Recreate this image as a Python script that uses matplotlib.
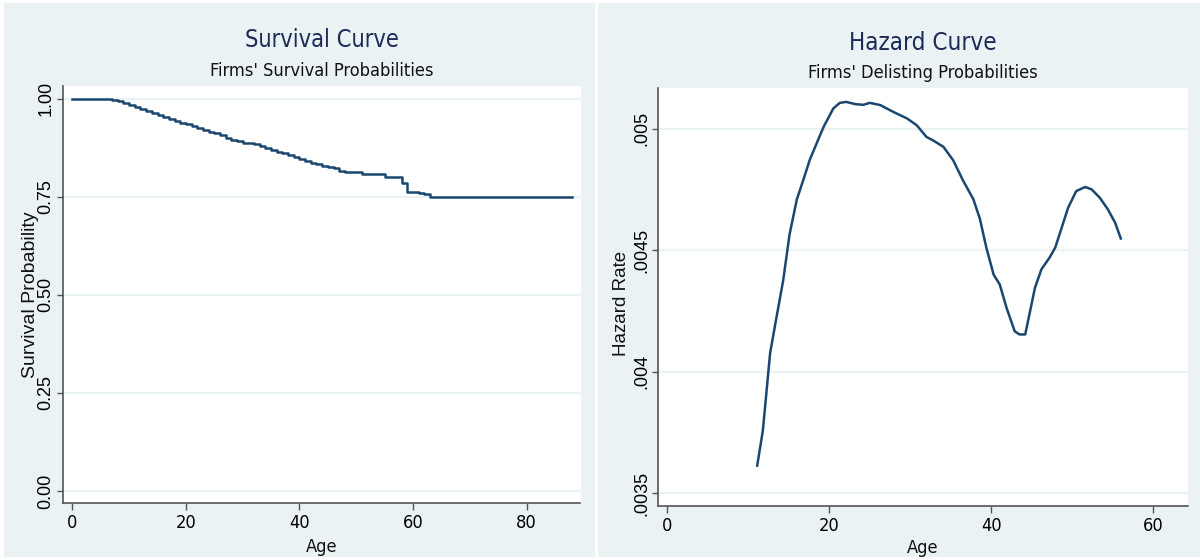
import matplotlib
matplotlib.use("Agg")
import matplotlib.pyplot as plt
from matplotlib.patches import Rectangle
from matplotlib import font_manager as fm

# ---------------- data ----------------
surv_age = list(range(0, 64)) + [88]
surv_prob = [1.000, 1.000, 1.000, 1.000, 1.000, 1.000, 0.999, 0.997, 0.993, 0.989,
             0.984, 0.979, 0.973, 0.968, 0.962, 0.957, 0.952, 0.947, 0.942, 0.938,
             0.934, 0.929, 0.924, 0.919, 0.915, 0.911, 0.906, 0.900, 0.895, 0.891,
             0.888, 0.887, 0.885, 0.879, 0.873, 0.869, 0.865, 0.861, 0.856, 0.851,
             0.846, 0.841, 0.837, 0.833, 0.829, 0.825, 0.823, 0.815, 0.814, 0.813,
             0.812, 0.807, 0.807, 0.807, 0.807, 0.800, 0.800, 0.800, 0.786, 0.761,
             0.761, 0.760, 0.757, 0.749, 0.749]

haz_age = [11.1, 11.8, 12.7, 13.4, 14.3, 15.1, 16.0, 16.8, 17.6, 18.5, 19.3, 20.5,
           21.3, 22.1, 23.2, 24.2, 25.0, 26.3, 27.9, 29.6, 30.8, 32.0, 32.8, 34.1,
           35.3, 36.5, 37.8, 38.6, 39.4, 40.3, 41.05, 41.9, 42.9, 43.5, 44.2, 44.8,
           45.4, 46.2, 47.2, 47.9, 48.7, 49.5, 50.5, 51.6, 52.4, 53.4, 54.4, 55.3, 56.0]
haz_rate = [0.003614, 0.003758, 0.004078, 0.004209, 0.004374, 0.004566, 0.004710,
            0.004790, 0.004873, 0.004945, 0.005008, 0.005084, 0.005107, 0.005111,
            0.005102, 0.005099, 0.005107, 0.005098, 0.005070, 0.005043, 0.005015,
            0.004967, 0.004953, 0.004926, 0.004871, 0.004789, 0.004710, 0.004630,
            0.004511, 0.004400, 0.004360, 0.004263, 0.004167, 0.004154, 0.004154,
            0.004250, 0.004346, 0.004422, 0.004470, 0.004511, 0.004593, 0.004676,
            0.004744, 0.004761, 0.004751, 0.004717, 0.004669, 0.004614, 0.004549]

surv_yticks = [0.0, 0.25, 0.5, 0.75, 1.0]
surv_yticklabels = ["0.00", "0.25", "0.50", "0.75", "1.00"]
surv_xticks = [0, 20, 40, 60, 80]
haz_yticks = [0.0035, 0.004, 0.0045, 0.005]
haz_yticklabels = [".0035", ".004", ".0045", ".005"]
haz_xticks = [0, 20, 40, 60]

# ---------------- fonts ----------------
def narrow_props():
    try:
        f = fm.findfont(fm.FontProperties(family="Liberation Sans Narrow"),
                        fallback_to_default=False)
        if "Narrow" in f:
            return dict(family="Liberation Sans Narrow"), 1.0
    except Exception:
        pass
    try:
        f = fm.findfont(fm.FontProperties(family="DejaVu Sans", stretch="condensed"),
                        fallback_to_default=False)
        if "Condensed" in f:
            return dict(family="DejaVu Sans", stretch="condensed"), 0.87
    except Exception:
        pass
    return dict(family="Liberation Sans"), 0.82

NARROW, NSCALE = narrow_props()
REG = dict(family="Liberation Sans")

# ---------------- style ----------------
W, H = 1200, 560
BG = "#eaf2f3"
LINE = "#1a476f"
TITLE_C = "#1c2b58"
AX_C = "#555555"

fig = plt.figure(figsize=(W / 100, H / 100), dpi=100)
fig.patch.set_facecolor("white")

def px(x, y):
    return x / W, 1 - y / H

for (x0, y0, x1, y1) in [(4, 3, 595, 557), (598, 3, 1200, 557)]:
    fig.patches.append(Rectangle((x0 / W, 1 - y1 / H), (x1 - x0) / W, (y1 - y0) / H,
                                 transform=fig.transFigure, facecolor=BG,
                                 edgecolor="none", zorder=-10))

def make_axes(x0, y0, x1, y1):
    ax = fig.add_axes([x0 / W, 1 - y1 / H, (x1 - x0) / W, (y1 - y0) / H])
    ax.set_facecolor("white")
    for s in ["top", "right"]:
        ax.spines[s].set_visible(False)
    for s in ["left", "bottom"]:
        ax.spines[s].set_color(AX_C)
        ax.spines[s].set_linewidth(1.2)
    ax.tick_params(axis="both", colors=AX_C, labelcolor="black", width=1.0)
    ax.tick_params(axis="x", length=5, pad=3)
    ax.tick_params(axis="y", length=4, pad=2)
    ax.grid(axis="y", color=BG, linewidth=1.6)
    ax.grid(axis="x", visible=False)
    ax.set_axisbelow(True)
    return ax

# ---------------- survival ----------------
ax1 = make_axes(62.7, 86, 580.5, 503)
ax1.plot(surv_age, surv_prob, drawstyle="steps-post", color=LINE, linewidth=1.8)
ax1.set_xlim(-1.7, 89.5)
ax1.set_ylim(-0.0306, 1.032)
ax1.set_xticks(surv_xticks)
ax1.set_xticklabels([str(t) for t in surv_xticks], fontsize=15 * NSCALE, **NARROW)
ax1.set_yticks(surv_yticks)
ax1.set_yticklabels(surv_yticklabels, rotation=90, va="center", fontsize=13, **REG)

# ---------------- hazard ----------------
ax2 = make_axes(658.3, 88.3, 1188, 506)
ax2.plot(haz_age, haz_rate, color=LINE, linewidth=1.8)
ax2.set_xlim(-1.11, 64.3)
ax2.set_ylim(0.003448, 0.005167)
ax2.set_xticks(haz_xticks)
ax2.set_xticklabels([str(t) for t in haz_xticks], fontsize=15 * NSCALE, **NARROW)
ax2.set_yticks(haz_yticks)
ax2.set_yticklabels(haz_yticklabels, rotation=90, va="center", fontsize=13, **REG)

# ---------------- text ----------------
fig.text(*px(321.6, 46.7), "Survival Curve", ha="center", va="baseline",
         fontsize=19.5 * NSCALE, color=TITLE_C, **NARROW)
fig.text(*px(321.6, 76), "Firms' Survival Probabilities", ha="center", va="baseline",
         fontsize=15 * NSCALE, color="#111111", **NARROW)
fig.text(*px(923, 50), "Hazard Curve", ha="center", va="baseline",
         fontsize=20 * NSCALE, color=TITLE_C, **NARROW)
fig.text(*px(923, 78), "Firms' Delisting Probabilities", ha="center", va="baseline",
         fontsize=15 * NSCALE, color="#111111", **NARROW)

fig.text(*px(321.6, 552), "Age", ha="center", va="baseline", fontsize=15 * NSCALE,
         color="#111111", **NARROW)
fig.text(*px(923, 553), "Age", ha="center", va="baseline", fontsize=15 * NSCALE,
         color="#111111", **NARROW)

fig.text(*px(31, 294.5), "Survival Probability", rotation=90, ha="center",
         va="center", fontsize=14, color="#111111", **REG)
fig.text(*px(622, 303), "Hazard Rate", rotation=90, ha="center",
         va="center", fontsize=13.5, color="#111111", **REG)

fig.savefig("out.png", dpi=100, facecolor=fig.get_facecolor())
